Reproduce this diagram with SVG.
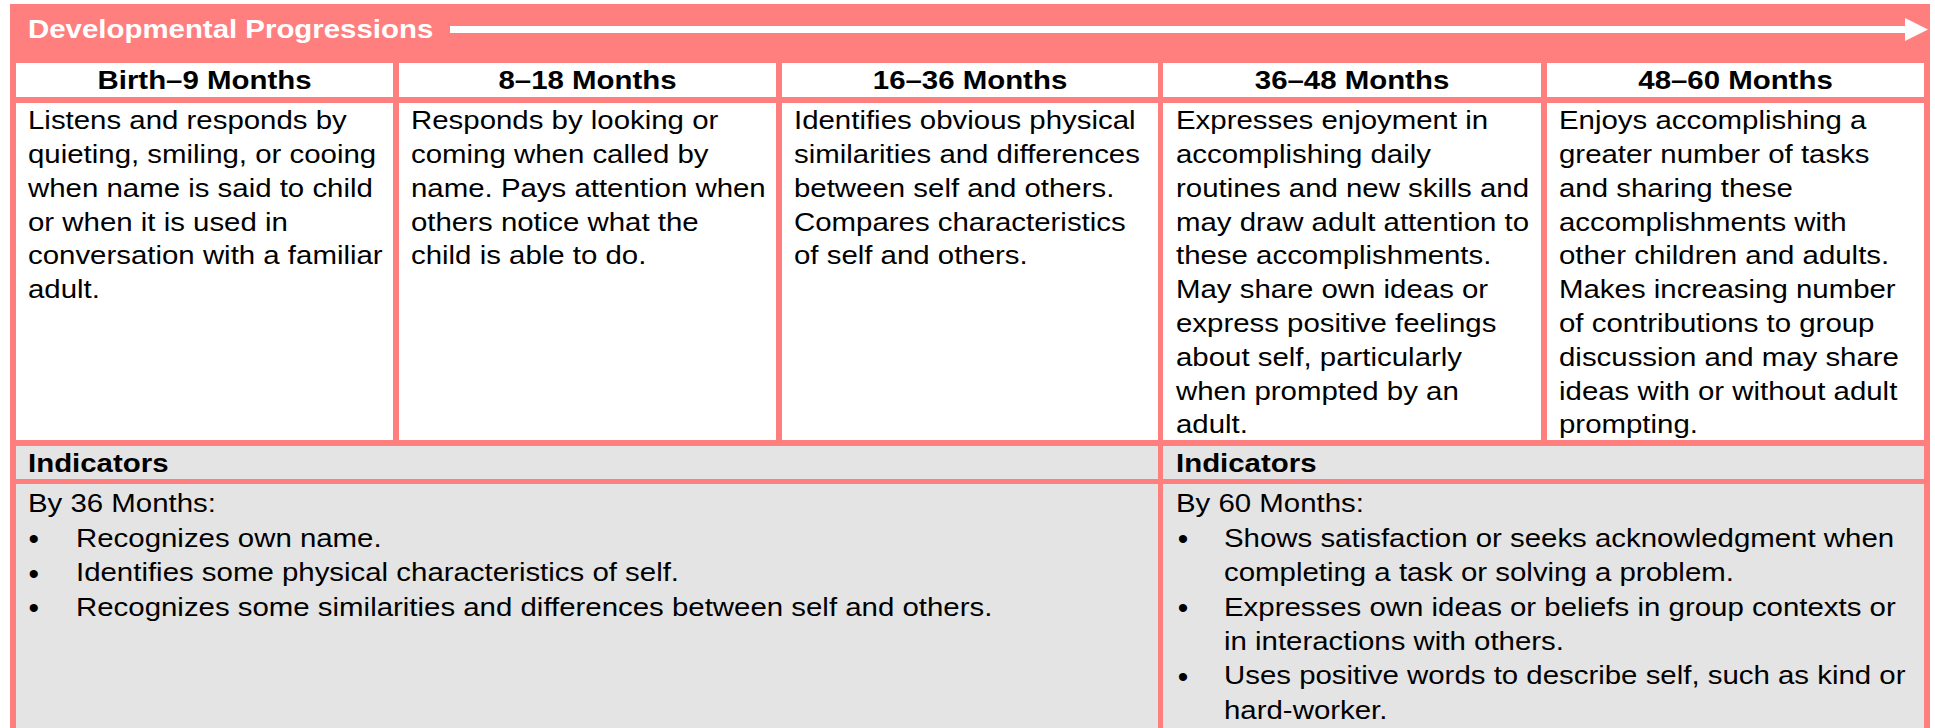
<svg xmlns="http://www.w3.org/2000/svg" width="1935" height="728" viewBox="0 0 1935 728">
  <defs>
    <marker id="arrowHead" viewBox="0 0 23 23" markerWidth="23" markerHeight="23" refX="1" refY="11.5" markerUnits="userSpaceOnUse" orient="auto">
      <path d="M0,0 L23,11.5 L0,23 Z" fill="#ffffff"/>
    </marker>
  </defs>
  <style>
    .frame { fill: #ff7f7f; }
    .cell { fill: #ffffff; }
    .gray { fill: #e4e4e4; }
    text { font-family: "Liberation Sans", Arial, Helvetica, sans-serif; font-size: 26.5px; fill: #000000; }
    .title { font-weight: bold; fill: #ffffff; }
    .head { font-weight: bold; text-anchor: middle; }
    .bold { font-weight: bold; }
    .bullet { font-size: 30px; }
  </style>

  <rect width="1935" height="728" fill="#ffffff"/>
  <rect class="frame" x="10" y="4" width="1920" height="724"/>

  <g id="title">
    <text class="title" transform="translate(28,38.3) scale(1.11,1)">Developmental Progressions</text>
  </g>

  <g id="connectors">
    <line x1="450" y1="29.5" x2="1906" y2="29.5" stroke="#ffffff" stroke-width="7" marker-end="url(#arrowHead)"/>
  </g>

  <g id="col1">
    <rect class="cell" x="16" y="63" width="377" height="34"/>
    <rect class="cell" x="16" y="103" width="377" height="337"/>
    <text class="head" transform="translate(204.5,89) scale(1.11,1)">Birth–9 Months</text>
    <text transform="translate(28,129.3) scale(1.11,1)">
      <tspan x="0" dy="0">Listens and responds by</tspan>
      <tspan x="0" dy="33.8">quieting, smiling, or cooing</tspan>
      <tspan x="0" dy="33.8">when name is said to child</tspan>
      <tspan x="0" dy="33.8">or when it is used in</tspan>
      <tspan x="0" dy="33.8">conversation with a familiar</tspan>
      <tspan x="0" dy="33.8">adult.</tspan>
    </text>
  </g>

  <g id="col2">
    <rect class="cell" x="399" y="63" width="377" height="34"/>
    <rect class="cell" x="399" y="103" width="377" height="337"/>
    <text class="head" transform="translate(587.5,89) scale(1.11,1)">8–18 Months</text>
    <text transform="translate(411,129.3) scale(1.11,1)">
      <tspan x="0" dy="0">Responds by looking or</tspan>
      <tspan x="0" dy="33.8">coming when called by</tspan>
      <tspan x="0" dy="33.8">name. Pays attention when</tspan>
      <tspan x="0" dy="33.8">others notice what the</tspan>
      <tspan x="0" dy="33.8">child is able to do.</tspan>
    </text>
  </g>

  <g id="col3">
    <rect class="cell" x="782" y="63" width="376" height="34"/>
    <rect class="cell" x="782" y="103" width="376" height="337"/>
    <text class="head" transform="translate(970,89) scale(1.11,1)">16–36 Months</text>
    <text transform="translate(794,129.3) scale(1.11,1)">
      <tspan x="0" dy="0">Identifies obvious physical</tspan>
      <tspan x="0" dy="33.8">similarities and differences</tspan>
      <tspan x="0" dy="33.8">between self and others.</tspan>
      <tspan x="0" dy="33.8">Compares characteristics</tspan>
      <tspan x="0" dy="33.8">of self and others.</tspan>
    </text>
  </g>

  <g id="col4">
    <rect class="cell" x="1163" y="63" width="378" height="34"/>
    <rect class="cell" x="1163" y="103" width="378" height="337"/>
    <text class="head" transform="translate(1352,89) scale(1.11,1)">36–48 Months</text>
    <text transform="translate(1176,129.3) scale(1.11,1)">
      <tspan x="0" dy="0">Expresses enjoyment in</tspan>
      <tspan x="0" dy="33.8">accomplishing daily</tspan>
      <tspan x="0" dy="33.8">routines and new skills and</tspan>
      <tspan x="0" dy="33.8">may draw adult attention to</tspan>
      <tspan x="0" dy="33.8">these accomplishments.</tspan>
      <tspan x="0" dy="33.8">May share own ideas or</tspan>
      <tspan x="0" dy="33.8">express positive feelings</tspan>
      <tspan x="0" dy="33.8">about self, particularly</tspan>
      <tspan x="0" dy="33.8">when prompted by an</tspan>
      <tspan x="0" dy="33.8">adult.</tspan>
    </text>
  </g>

  <g id="col5">
    <rect class="cell" x="1547" y="63" width="377" height="34"/>
    <rect class="cell" x="1547" y="103" width="377" height="337"/>
    <text class="head" transform="translate(1735.5,89) scale(1.11,1)">48–60 Months</text>
    <text transform="translate(1559,129.3) scale(1.11,1)">
      <tspan x="0" dy="0">Enjoys accomplishing a</tspan>
      <tspan x="0" dy="33.8">greater number of tasks</tspan>
      <tspan x="0" dy="33.8">and sharing these</tspan>
      <tspan x="0" dy="33.8">accomplishments with</tspan>
      <tspan x="0" dy="33.8">other children and adults.</tspan>
      <tspan x="0" dy="33.8">Makes increasing number</tspan>
      <tspan x="0" dy="33.8">of contributions to group</tspan>
      <tspan x="0" dy="33.8">discussion and may share</tspan>
      <tspan x="0" dy="33.8">ideas with or without adult</tspan>
      <tspan x="0" dy="33.8">prompting.</tspan>
    </text>
  </g>

  <g id="indicators36">
    <rect class="gray" x="16" y="446" width="1142" height="33"/>
    <rect class="gray" x="16" y="484" width="1142" height="244"/>
    <text class="bold" transform="translate(28,472) scale(1.11,1)">Indicators</text>
    <text transform="translate(28,512.3) scale(1.11,1)">By 36 Months:</text>
    <text class="bullet" x="28.4" y="549.4">•</text>
    <text transform="translate(76,546.7) scale(1.11,1)">Recognizes own name.</text>
    <text class="bullet" x="28.4" y="583.8">•</text>
    <text transform="translate(76,581.1) scale(1.11,1)">Identifies some physical characteristics of self.</text>
    <text class="bullet" x="28.4" y="618.2">•</text>
    <text transform="translate(76,615.5) scale(1.11,1)">Recognizes some similarities and differences between self and others.</text>
  </g>

  <g id="indicators60">
    <rect class="gray" x="1163" y="446" width="761" height="33"/>
    <rect class="gray" x="1163" y="484" width="761" height="244"/>
    <text class="bold" transform="translate(1176,472) scale(1.11,1)">Indicators</text>
    <text transform="translate(1176,512.3) scale(1.11,1)">By 60 Months:</text>
    <text class="bullet" x="1177.7" y="549.4">•</text>
    <text transform="translate(1224,546.7) scale(1.11,1)">
      <tspan x="0" dy="0">Shows satisfaction or seeks acknowledgment when</tspan>
      <tspan x="0" dy="34.4">completing a task or solving a problem.</tspan>
    </text>
    <text class="bullet" x="1177.7" y="618.2">•</text>
    <text transform="translate(1224,615.5) scale(1.11,1)">
      <tspan x="0" dy="0">Expresses own ideas or beliefs in group contexts or</tspan>
      <tspan x="0" dy="34.4">in interactions with others.</tspan>
    </text>
    <text class="bullet" x="1177.7" y="687">•</text>
    <text transform="translate(1224,684.3) scale(1.11,1)">
      <tspan x="0" dy="0">Uses positive words to describe self, such as kind or</tspan>
      <tspan x="0" dy="34.4">hard-worker.</tspan>
    </text>
  </g>
</svg>
